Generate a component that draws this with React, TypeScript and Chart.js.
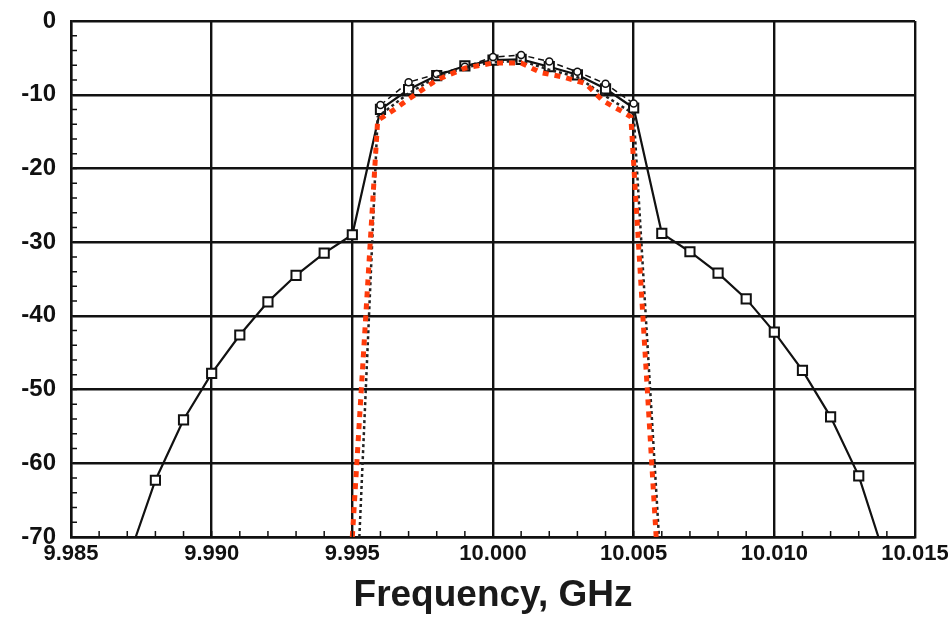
import React, { useEffect, useRef } from "react";
import { Chart, registerables } from "chart.js";

Chart.register(...registerables);

const xTickValues = [9.985, 9.99, 9.995, 10.0, 10.005, 10.01, 10.015];
const yTickValues = [0, -10, -20, -30, -40, -50, -60, -70];

const solidX = [9.9873, 9.988, 9.989, 9.99, 9.991, 9.992, 9.993, 9.994, 9.995, 9.996, 9.997, 9.998, 9.999, 10.0, 10.001, 10.002, 10.003, 10.004, 10.005, 10.006, 10.007, 10.008, 10.009, 10.01, 10.011, 10.012, 10.013, 10.0137];
const solidY = [-70, -62.3, -54.1, -47.8, -42.6, -38.1, -34.5, -31.5, -29.0, -12.0, -9.3, -7.4, -6.1, -5.3, -5.2, -6.2, -7.3, -9.2, -11.8, -28.8, -31.3, -34.2, -37.7, -42.2, -47.4, -53.7, -61.7, -70];

const dashX = [9.996, 9.997, 9.998, 9.999, 10.0, 10.001, 10.002, 10.003, 10.004, 10.005];
const dashY = [-11.4, -8.3, -7.2, -6.2, -4.9, -4.6, -5.5, -6.9, -8.5, -11.2];

const dotX = [9.99525, 9.9959, 9.997, 9.998, 9.999, 10.0, 10.001, 10.002, 10.003, 10.004, 10.005, 10.0059];
const dotY = [-70, -13.0, -9.8, -7.6, -6.3, -5.6, -5.4, -6.6, -7.6, -10.2, -12.6, -70];

const redX = [9.995, 9.9959, 9.9965, 9.997, 9.998, 9.999, 10.0, 10.001, 10.0017, 10.0025, 10.0033, 10.0039, 10.0046, 10.0049, 10.0058];
const redY = [-70, -13.5, -12.0, -10.6, -8.0, -6.4, -5.7, -5.7, -7.0, -7.6, -8.5, -10.8, -12.3, -13.0, -70];

const zip = (xs: number[], ys: number[]) => xs.map((x, i) => ({ x, y: ys[i] }));

const minorTicks = {
  id: "minorTicks",
  afterDatasetsDraw(chart: any) {
    const { ctx, chartArea, scales } = chart;
    const xs = scales.x;
    const ys = scales.y;
    ctx.save();
    ctx.strokeStyle = "#111";
    ctx.lineWidth = 1.5;
    ctx.beginPath();
    for (let i = 0; i <= 30; i++) {
      const v = 9.985 + i * 0.001;
      const px = xs.getPixelForValue(v);
      ctx.moveTo(px, chartArea.bottom);
      ctx.lineTo(px, chartArea.bottom - 6);
    }
    for (let i = 0; i <= 35; i++) {
      const v = -i * 2;
      const py = ys.getPixelForValue(v);
      ctx.moveTo(chartArea.left, py);
      ctx.lineTo(chartArea.left + 6, py);
    }
    ctx.stroke();
    ctx.restore();
  },
};

export default function App() {
  const ref = useRef<HTMLCanvasElement | null>(null);
  useEffect(() => {
    if (!ref.current) return;
    const chart = new Chart(ref.current, {
      type: "scatter",
      data: {
        datasets: [
          {
            label: "red",
            data: zip(redX, redY),
            showLine: true,
            borderColor: "#ff3a0a",
            borderWidth: 5,
            borderDash: [6, 6],
            pointRadius: 0,
            tension: 0,
          },
          {
            label: "dotted",
            data: zip(dotX, dotY),
            showLine: true,
            borderColor: "#222",
            borderWidth: 2.5,
            borderDash: [3, 3],
            pointRadius: 0,
            tension: 0,
          },
          {
            label: "dashed",
            data: zip(dashX, dashY),
            showLine: true,
            borderColor: "#111",
            borderWidth: 1.5,
            borderDash: [6, 4],
            pointStyle: "circle",
            pointRadius: 3.5,
            pointBackgroundColor: "#fff",
            pointBorderColor: "#111",
            pointBorderWidth: 1.5,
            tension: 0,
          },
          {
            label: "solid",
            data: zip(solidX, solidY),
            showLine: true,
            borderColor: "#111",
            borderWidth: 2.2,
            pointStyle: "rect",
            pointRadius: solidX.map((_, i) => (i === 0 || i === solidX.length - 1 ? 0 : 6.5)),
            pointBackgroundColor: "#fff",
            pointBorderColor: "#111",
            pointBorderWidth: 2,
            tension: 0,
          },
        ],
      },
      options: {
        animation: false,
        responsive: false,
        maintainAspectRatio: false,
        layout: { padding: { top: 21, right: 33, left: 0, bottom: 0 } },
        plugins: { legend: { display: false }, tooltip: { enabled: false } },
        scales: {
          x: {
            type: "linear",
            min: 9.985,
            max: 10.015,
            afterBuildTicks: (s: any) => {
              s.ticks = xTickValues.map((v) => ({ value: v }));
            },
            afterFit: (s: any) => {
              s.height = 81;
              s.paddingLeft = 0;
              s.paddingRight = 0;
            },
            ticks: {
              color: "#111",
              font: { family: "Liberation Sans", size: 22, weight: "bold" },
              padding: 4,
              maxRotation: 0,
              callback: (v: any) => Number(v).toFixed(3),
            },
            grid: { color: "#111", lineWidth: 2.4, drawTicks: false },
            border: { color: "#111", width: 2.4 },
            title: {
              display: true,
              text: "Frequency, GHz",
              color: "#1a1a1a",
              font: { family: "Liberation Sans", size: 37, weight: "bold" },
              padding: { top: 0, bottom: 0 },
            },
          },
          y: {
            type: "linear",
            min: -70,
            max: 0,
            afterBuildTicks: (s: any) => {
              s.ticks = yTickValues.map((v) => ({ value: v }));
            },
            afterFit: (s: any) => {
              s.width = 71;
              s.paddingTop = 0;
              s.paddingBottom = 0;
            },
            ticks: {
              color: "#111",
              font: { family: "Liberation Sans", size: 24, weight: "bold" },
              padding: 15,
            },
            grid: { color: "#111", lineWidth: 2.4, drawTicks: false },
            border: { color: "#111", width: 2.4 },
          },
        },
      },
      plugins: [minorTicks],
    });
    return () => chart.destroy();
  }, []);
  return (
    <div style={{ position: "fixed", left: 0, top: 0, width: 948, height: 618, background: "#fff" }}>
      <canvas ref={ref} width={948} height={618} style={{ width: 948, height: 618 }} />
    </div>
  );
}
